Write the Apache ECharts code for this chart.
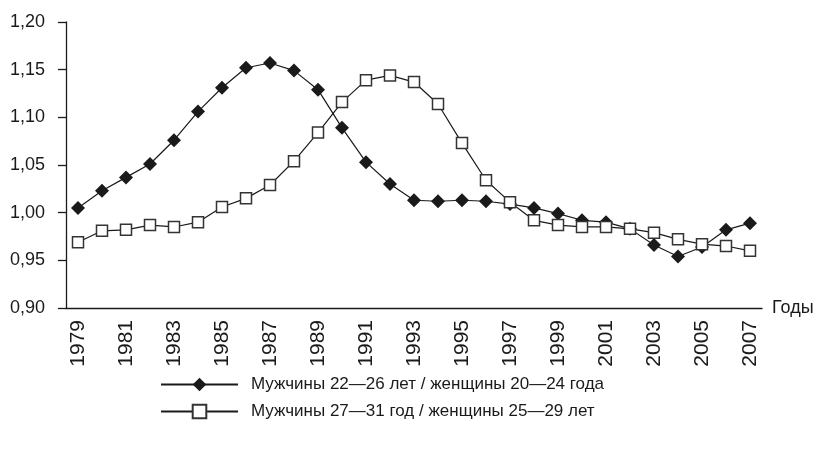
<!DOCTYPE html>
<html>
<head>
<meta charset="utf-8">
<script src="https://cdn.jsdelivr.net/npm/echarts@6/dist/echarts.min.js"></script>
<style>
  html, body { margin: 0; padding: 0; background: #fff; }
  #chart { width: 817px; height: 450px; }
</style>
</head>
<body>
<div id="chart"></div>
<script>
const years = ['1979','1980','1981','1982','1983','1984','1985','1986','1987','1988',
  '1989','1990','1991','1992','1993','1994','1995','1996','1997','1998',
  '1999','2000','2001','2002','2003','2004','2005','2006','2007']

// мужчины 22-26 / женщины 20-24
const young = [1.005, 1.023, 1.037, 1.051, 1.076, 1.106, 1.131, 1.152, 1.157, 1.149,
  1.129, 1.089, 1.053, 1.030, 1.013, 1.012, 1.013, 1.012, 1.009, 1.005,
  0.999, 0.992, 0.990, 0.983, 0.966, 0.954, 0.964, 0.982, 0.989]

// мужчины 27-31 / женщины 25-29
const older = [0.969, 0.981, 0.982, 0.987, 0.985, 0.990, 1.006, 1.015, 1.029, 1.054,
  1.084, 1.116, 1.139, 1.144, 1.137, 1.114, 1.073, 1.034, 1.011, 0.992,
  0.987, 0.985, 0.985, 0.983, 0.979, 0.972, 0.967, 0.965, 0.960]

const names = ['Мужчины 22—26 лет / женщины 20—24 года', 'Мужчины 27—31 год / женщины 25—29 лет']

const font = '"Liberation Sans", Arial, sans-serif'
const ink = '#1a1a1a'

var chart = echarts.init(document.getElementById('chart'))

chart.setOption({
  backgroundColor: '#fff',
  animation: false,
  grid: { left: 66, right: 55, top: 22, bottom: 142, outerBoundsMode: 'none' },
  legend: {
    orient: 'vertical',
    left: 155,
    top: 371,
    itemGap: 10,
    itemWidth: 77,
    itemHeight: 17,
    textStyle: { fontFamily: font, fontSize: 17, color: ink, padding: [0, 0, 0, 8] },
    data: names
  },
  xAxis: {
    type: 'category',
    data: years,
    boundaryGap: true,
    name: 'Годы',
    nameLocation: 'end',
    nameGap: 10,
    nameTextStyle: { fontFamily: font, fontSize: 18, color: ink, align: 'left', verticalAlign: 'middle' },
    axisLine: { lineStyle: { color: ink, width: 1.3 } },
    axisTick: { interval: 0, length: 6, lineStyle: { color: ink, width: 1.3 } },
    axisLabel: { interval: 1, rotate: 90, margin: 12, fontFamily: font, fontSize: 21, color: ink }
  },
  yAxis: {
    type: 'value',
    min: 0.9,
    max: 1.2,
    interval: 0.05,
    axisLine: { show: true, lineStyle: { color: ink, width: 1.3 } },
    axisTick: { show: true, length: 8, lineStyle: { color: ink, width: 1.3 } },
    splitLine: { show: false },
    axisLabel: {
      margin: 21,
      fontFamily: font,
      fontSize: 18,
      color: ink,
      formatter: v => v.toFixed(2).replace('.', ',')
    }
  },
  series: [
    {
      name: names[0],
      type: 'line',
      data: young,
      symbol: 'diamond',
      symbolSize: 14,
      lineStyle: { color: ink, width: 1.2 },
      itemStyle: { color: ink, borderWidth: 0 }
    },
    {
      name: names[1],
      type: 'line',
      data: older,
      symbol: 'rect',
      symbolSize: 11,
      lineStyle: { color: ink, width: 1.2 },
      itemStyle: { color: '#fff', borderColor: '#333', borderWidth: 1.5 }
    }
  ]
})
</script>
</body>
</html>
